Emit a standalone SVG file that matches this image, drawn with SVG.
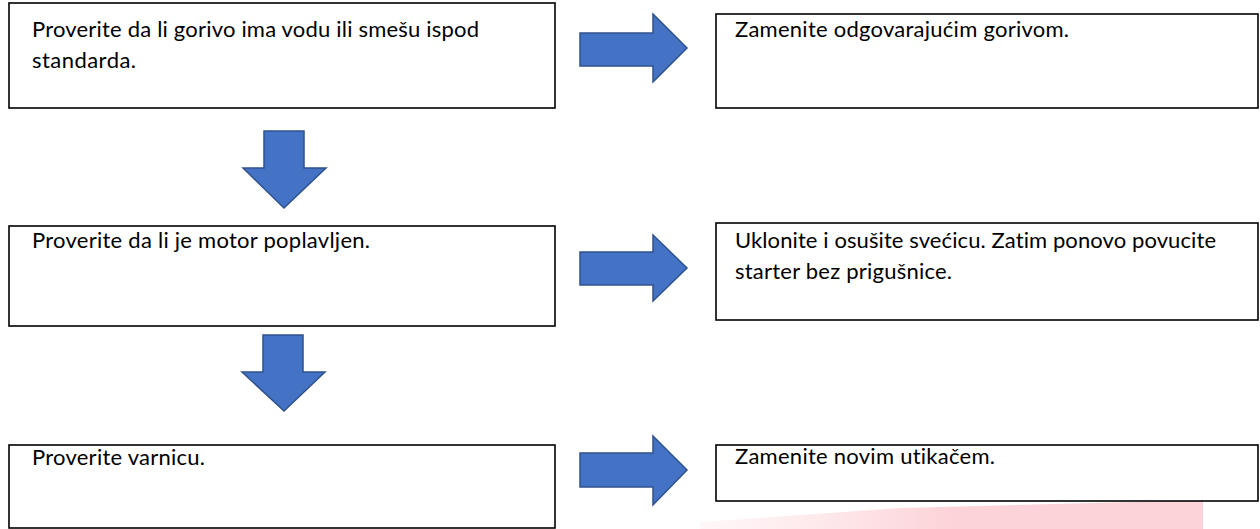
<svg xmlns="http://www.w3.org/2000/svg" width="1260" height="529" viewBox="0 0 1260 529">
<defs>
<linearGradient id="wm" x1="0" y1="0" x2="1" y2="0">
<stop offset="0" stop-color="#fde3e6" stop-opacity="0.3"/>
<stop offset="0.5" stop-color="#fcd3d8"/>
<stop offset="1" stop-color="#fcd3d8"/>
</linearGradient>
</defs>
<style>
.box{fill:#fff;stroke:#000;stroke-width:1.6}
.t{font-family:Lato,"Liberation Sans",Arial,sans-serif;font-size:22px;fill:#000;font-variant-ligatures:none}
.arr{fill:#4472C4;stroke:#2F528F;stroke-width:1.5;stroke-linejoin:miter}
</style>
<rect width="1260" height="529" fill="#fff"/>
<polygon points="700,522 900,508 1203,500 1203,529 700,529" fill="url(#wm)"/>
<g id="connectors">
<polygon class="arr" points="580,33 653,33 653,14 687,48 653,82 653,66 580,66"/>
<polygon class="arr" points="264,131 304,131 304,168 326,168 284,208 243,168 264,168"/>
<polygon class="arr" points="580,252 653,252 653,235 687,268 653,301 653,285 580,285"/>
<polygon class="arr" points="263,335 303,335 303,372 325,372 284,411 242,372 263,372"/>
<polygon class="arr" points="580,453 653,453 653,436 687,470 653,505 653,487 580,487"/>
</g>
<g id="n1"><rect class="box" x="9" y="3" width="546" height="105"/>
<text class="t" x="32" y="37" textLength="447" lengthAdjust="spacing">Proverite da li gorivo ima vodu ili smešu ispod</text>
<text class="t" x="32" y="68" textLength="104" lengthAdjust="spacing">standarda.</text></g>
<g id="n2"><rect class="box" x="716" y="14" width="542" height="94"/>
<text class="t" x="735" y="37" textLength="334" lengthAdjust="spacing">Zamenite odgovarajućim gorivom.</text></g>
<g id="n3"><rect class="box" x="9" y="226" width="546" height="100"/>
<text class="t" x="32" y="248" textLength="338" lengthAdjust="spacing">Proverite da li je motor poplavljen.</text></g>
<g id="n4"><rect class="box" x="716" y="223" width="542" height="97"/>
<text class="t" x="735" y="248" textLength="481" lengthAdjust="spacing">Uklonite i osušite svećicu. Zatim ponovo povucite</text>
<text class="t" x="735" y="279" textLength="217" lengthAdjust="spacing">starter bez prigušnice.</text></g>
<g id="n5"><rect class="box" x="9" y="445" width="546" height="83"/>
<text class="t" x="32" y="465" textLength="173" lengthAdjust="spacing">Proverite varnicu.</text></g>
<g id="n6"><rect class="box" x="716" y="445" width="542" height="56"/>
<text class="t" x="735" y="464" textLength="260" lengthAdjust="spacing">Zamenite novim utikačem.</text></g>
</svg>
